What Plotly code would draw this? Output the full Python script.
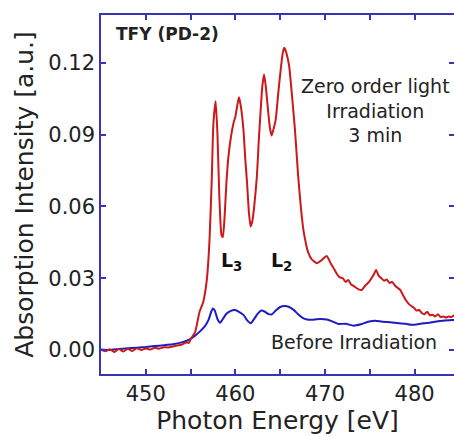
import plotly.graph_objects as go

# Photon energy [eV] and TFY intensity after zero-order light irradiation (3 min)
red_x = [445.0, 445.5, 446.0, 446.5, 447.0, 447.5, 448.0, 448.5, 449.0, 449.5, 450.0, 450.5, 451.0, 451.5,
         452.0, 452.5, 453.0, 453.5, 454.0, 454.5, 454.8, 455.0, 455.5, 456.0, 456.4, 456.8, 457.1, 457.35,
         457.55, 457.8, 458.0, 458.2, 458.45, 458.6, 458.8, 459.0, 459.2, 459.5, 459.8, 460.0, 460.2, 460.4,
         460.6, 460.9, 461.1, 461.3, 461.5, 461.7, 461.9, 462.1, 462.4, 462.6, 462.8, 463.0, 463.2, 463.4,
         463.6, 463.85, 464.05, 464.3, 464.5, 464.8, 465.05, 465.3, 465.46, 465.7, 466.0, 466.3, 466.65,
         467.0, 467.3, 467.6, 467.9, 468.1, 468.5, 469.1, 469.6, 470.2, 470.6, 471.0, 471.3, 471.6, 472.0,
         472.3, 472.6, 472.9, 473.3, 473.7, 474.1, 474.5, 474.8, 475.1, 475.5, 475.7, 476.0, 476.3, 476.6,
         476.9, 477.2, 477.5, 477.8, 478.1, 478.4, 478.7, 479.0, 479.3, 479.6, 479.9, 480.2, 480.5, 480.8,
         481.1, 481.4, 481.7, 482.0, 482.3, 482.6, 482.9, 483.2, 483.5, 483.8, 484.1, 484.4, 485.0]
red_y = [0.0000, -0.0005, 0.0003, -0.0008, 0.0004, -0.0006, 0.0006, -0.0004, 0.0008, 0.0000, 0.0007, 0.0002,
         0.0010, 0.0006, 0.0012, 0.0011, 0.0015, 0.0019, 0.0022, 0.0032, 0.0030, 0.0045, 0.0075, 0.0160,
         0.0200, 0.0290, 0.0450, 0.0700, 0.0950, 0.1040, 0.0900, 0.0650, 0.0480, 0.0472, 0.0560, 0.0700,
         0.0800, 0.0890, 0.0950, 0.0975, 0.1020, 0.1056, 0.1020, 0.0920, 0.0800, 0.0700, 0.0580, 0.0516,
         0.0540, 0.0600, 0.0725, 0.0870, 0.0990, 0.1100, 0.1151, 0.1100, 0.1020, 0.0930, 0.0896, 0.0930,
         0.0963, 0.1080, 0.1170, 0.1245, 0.1263, 0.1240, 0.1186, 0.1070, 0.0920, 0.0730, 0.0600, 0.0500,
         0.0440, 0.0410, 0.0380, 0.0363, 0.0375, 0.0393, 0.0365, 0.0340, 0.0320, 0.0305, 0.0300, 0.0285,
         0.0293, 0.0275, 0.0265, 0.0255, 0.0251, 0.0270, 0.0280, 0.0295, 0.0320, 0.0335, 0.0310, 0.0300,
         0.0290, 0.0295, 0.0280, 0.0285, 0.0270, 0.0260, 0.0251, 0.0230, 0.0210, 0.0195, 0.0185, 0.0178,
         0.0165, 0.0168, 0.0155, 0.0150, 0.0160, 0.0145, 0.0148, 0.0140, 0.0150, 0.0138, 0.0140, 0.0136,
         0.0140, 0.0138, 0.0145, 0.0145]

# Before irradiation
blue_x = [445.0, 446.0, 447.0, 448.0, 449.0, 450.0, 451.0, 452.0, 453.0, 454.0, 454.9, 455.5, 456.05, 456.6,
          457.0, 457.3, 457.5, 457.7, 458.0, 458.3, 458.6, 459.0, 459.5, 459.95, 460.4, 460.9, 461.3, 461.7,
          462.0, 462.5, 462.9, 463.3, 463.7, 464.05, 464.5, 465.0, 465.5, 466.0, 466.5, 467.0, 467.5, 468.0,
          468.7, 469.5, 470.2, 470.8, 471.5, 472.3, 473.2, 474.0, 474.8, 475.6, 476.4, 477.3, 478.2, 479.0,
          479.6, 480.2, 481.0, 481.8, 482.6, 483.4, 484.4, 485.0]
blue_y = [0.0002, 0.0000, 0.0005, 0.0008, 0.0010, 0.0013, 0.0017, 0.0020, 0.0024, 0.0032, 0.0045, 0.0060,
          0.0078, 0.0100, 0.0126, 0.0160, 0.0174, 0.0165, 0.0130, 0.0114, 0.0130, 0.0152, 0.0164, 0.0167,
          0.0160, 0.0147, 0.0125, 0.0112, 0.0125, 0.0152, 0.0165, 0.0160, 0.0150, 0.0149, 0.0165, 0.0180,
          0.0184, 0.0180, 0.0168, 0.0150, 0.0135, 0.0128, 0.0127, 0.0130, 0.0128, 0.0120, 0.0109, 0.0110,
          0.0102, 0.0108, 0.0118, 0.0123, 0.0118, 0.0116, 0.0112, 0.0110, 0.0106, 0.0107, 0.0112, 0.0115,
          0.0120, 0.0124, 0.0126, 0.0127]

x_ticks = [450, 460, 470, 480]
y_ticks = [0.00, 0.03, 0.06, 0.09, 0.12]
y_tick_text = ["0.00", "0.03", "0.06", "0.09", "0.12"]

FONT = "DejaVu Sans"
AXC = "#3535b5"
TXT = "#222222"

fig = go.Figure()
fig.add_trace(go.Scatter(x=blue_x, y=blue_y, mode="lines",
                         line=dict(color="#1c1cc0", width=2, shape="spline", smoothing=0.6),
                         showlegend=False))
fig.add_trace(go.Scatter(x=red_x, y=red_y, mode="lines",
                         line=dict(color="#cc1818", width=2, shape="spline", smoothing=0.5),
                         showlegend=False))

fig.update_layout(
    width=454, height=436,
    margin=dict(l=101, r=0, t=15, b=62),
    paper_bgcolor="white", plot_bgcolor="white",
    font=dict(family=FONT, color=TXT),
    xaxis=dict(range=[445, 484.4], tickvals=x_ticks, ticks="inside", ticklen=5,
               tickcolor=AXC, tickwidth=1.5, showline=True, linecolor=AXC, linewidth=1.5,
               mirror="allticks", showgrid=False, zeroline=False, automargin=False,
               minor=dict(dtick=5, tick0=445, ticks="inside", ticklen=5, tickcolor=AXC, tickwidth=1.5),
               tickfont=dict(size=21, family=FONT, color=TXT),
               title=dict(text="Photon Energy [eV]", font=dict(size=25, family=FONT, color=TXT), standoff=6)),
    yaxis=dict(range=[-0.01, 0.14], tickvals=y_ticks, ticktext=y_tick_text, ticks="inside", ticklen=5,
               tickcolor=AXC, tickwidth=1.5, showline=True, linecolor=AXC, linewidth=1.5,
               mirror="allticks", showgrid=False, zeroline=False, automargin=False,
               tickfont=dict(size=21, family=FONT, color=TXT),
               title=dict(text="Absorption Intensity [a.u.]", font=dict(size=25, family=FONT, color=TXT), standoff=8)),
)

fig.add_annotation(x=446.5, y=0.1319, xref="x", yref="y", text="<b>TFY (PD-2)</b>", showarrow=False,
                   xanchor="left", yanchor="middle", font=dict(size=17, family=FONT, color=TXT))
fig.add_annotation(x=475.6, y=0.1000, xref="x", yref="y", text="Zero order light<br>Irradiation<br>3 min",
                   showarrow=False, xanchor="center", yanchor="middle", align="center",
                   font=dict(size=19, family=FONT, color=TXT))
fig.add_annotation(x=459.6, y=0.0368, xref="x", yref="y", text="<b>L<sub>3</sub></b>", showarrow=False,
                   xanchor="center", yanchor="middle", font=dict(size=19, family=FONT, color="#111111"))
fig.add_annotation(x=465.2, y=0.0368, xref="x", yref="y", text="<b>L<sub>2</sub></b>", showarrow=False,
                   xanchor="center", yanchor="middle", font=dict(size=19, family=FONT, color="#111111"))
fig.add_annotation(x=473.2, y=0.0033, xref="x", yref="y", text="Before Irradiation", showarrow=False,
                   xanchor="center", yanchor="middle", font=dict(size=19, family=FONT, color=TXT))

fig.write_html("out.html", config={"displayModeBar": False},
               post_script="document.body.style.margin='0';document.body.style.overflow='hidden';")
